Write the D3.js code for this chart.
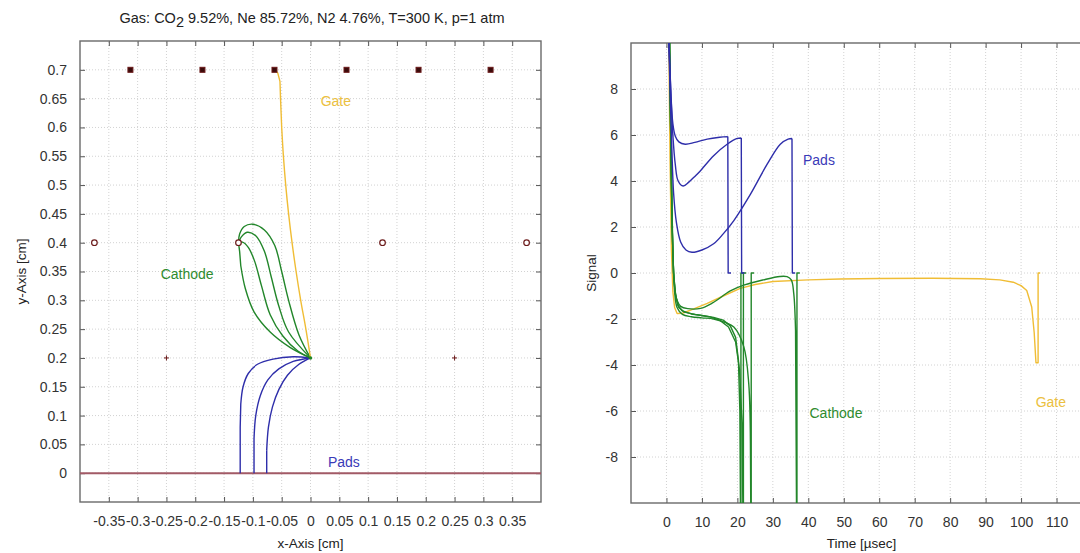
<!DOCTYPE html>
<html>
<head>
<meta charset="utf-8">
<script src="https://cdn.jsdelivr.net/npm/d3@7"></script>
<style>
  body { margin: 0; background: #fff; }
  text { font-family: "Liberation Sans", Arial, sans-serif; }
</style>
</head>
<body>
<svg id="chart" width="1080" height="553"></svg>
<script>
// ---- data: drift lines (left) ----
const leftXTicks = [-0.35, -0.3, -0.25, -0.2, -0.15, -0.1, -0.05, 0, 0.05, 0.1, 0.15, 0.2, 0.25, 0.3, 0.35];
const leftYTicks = [0, 0.05, 0.1, 0.15, 0.2, 0.25, 0.3, 0.35, 0.4, 0.45, 0.5, 0.55, 0.6, 0.65, 0.7];

const gateWiresX = [-0.3125, -0.1875, -0.0625, 0.0625, 0.1875, 0.3125]; // y = 0.7
const cathodeWiresX = [-0.375, -0.125, 0.125, 0.375];                   // y = 0.4
const crossMarksX = [-0.25, 0.25];                                      // y = 0.2
const padPlaneY = 0;

const gateDrift = [[0, 0.2], [-0.008, 0.25], [-0.017, 0.3], [-0.025, 0.35], [-0.032, 0.4], [-0.038, 0.45],
  [-0.043, 0.5], [-0.047, 0.55], [-0.05, 0.6], [-0.052, 0.65], [-0.053, 0.68], [-0.057, 0.695], [-0.0625, 0.7]];

const cathodeDrift = [
  [[0, 0.2], [-0.035, 0.218], [-0.07, 0.245], [-0.098, 0.28], [-0.113, 0.32], [-0.121, 0.36], [-0.123, 0.385], [-0.125, 0.4]],
  [[0, 0.2], [-0.022, 0.212], [-0.048, 0.238], [-0.07, 0.275], [-0.085, 0.325], [-0.097, 0.368], [-0.108, 0.392], [-0.118, 0.401], [-0.125, 0.4]],
  [[0, 0.2], [-0.038, 0.245], [-0.055, 0.29], [-0.068, 0.34], [-0.08, 0.385], [-0.095, 0.412], [-0.11, 0.418], [-0.12, 0.41], [-0.125, 0.4]],
  [[0, 0.2], [-0.02, 0.24], [-0.038, 0.3], [-0.05, 0.35], [-0.062, 0.395], [-0.08, 0.422], [-0.1, 0.432], [-0.115, 0.428], [-0.123, 0.415], [-0.125, 0.4]]
];

const padDrift = [
  [[0, 0.2], [-0.03, 0.202], [-0.065, 0.198], [-0.092, 0.189], [-0.108, 0.173], [-0.117, 0.15], [-0.121, 0.12], [-0.122, 0.08], [-0.122, 0]],
  [[0, 0.2], [-0.03, 0.194], [-0.055, 0.181], [-0.074, 0.162], [-0.087, 0.135], [-0.095, 0.1], [-0.098, 0.06], [-0.098, 0]],
  [[0, 0.2], [-0.02, 0.189], [-0.04, 0.17], [-0.055, 0.145], [-0.066, 0.115], [-0.073, 0.08], [-0.076, 0.04], [-0.076, 0]]
];

// ---- data: induced signals (right), [time usec, signal] ----
const rightXTicks = [0, 10, 20, 30, 40, 50, 60, 70, 80, 90, 100, 110];
const rightYTicks = [-8, -6, -4, -2, 0, 2, 4, 6, 8];

const padSignals = [
  [[0.5, 11], [1.2, 8], [1.8, 6.5], [2.5, 5.95], [3.5, 5.7], [5.3, 5.6], [8, 5.68], [11.5, 5.82], [15, 5.9], [17.3, 5.93], [17.4, 0], [18.2, 0]],
  [[0.5, 11], [1.2, 8], [1.8, 6], [2.5, 4.7], [3.3, 4.0], [4.7, 3.78], [6.3, 3.95], [8, 4.2], [9.6, 4.45], [13.3, 5.1], [17.1, 5.6], [20, 5.85], [21.1, 5.87], [21.2, 0], [22, 0]],
  [[0.5, 11], [1, 8], [1.5, 5.5], [2, 3.5], [2.8, 2.2], [4, 1.35], [5.5, 1.0], [7.2, 0.9], [10, 1.0], [13.3, 1.27], [16, 1.7], [19, 2.28],
    [23.7, 3.43], [28.4, 4.73], [32.1, 5.6], [34.3, 5.82], [35.4, 5.85], [35.5, 0], [36.3, 0]]
];

const cathodeSignals = [
  [[0.8, 11], [1.2, 6], [1.6, 2], [2, 0], [2.5, -0.9], [3.2, -1.4], [4.5, -1.65], [7, -1.78], [10, -1.85], [13.3, -1.93], [16, -2.05],
    [18, -2.3], [19.5, -2.8], [20.3, -3.8], [20.7, -6], [20.9, -11], [21.0, -11], [21.0, 0], [21.8, 0]],
  [[0.8, 11], [1.2, 6], [1.6, 2], [2, 0], [2.6, -1.0], [3.5, -1.5], [5, -1.7], [8, -1.8], [12, -1.9], [15, -2.05], [17.5, -2.35],
    [19.5, -3.0], [20.6, -4.2], [21.3, -6.5], [21.6, -11], [21.7, -11], [21.7, 0], [22.5, 0]],
  [[0.8, 11], [1.3, 5], [1.8, 1], [2.3, -0.8], [3, -1.5], [4.5, -1.8], [7, -1.9], [10, -1.95], [13.3, -2.0], [16.5, -2.15], [19, -2.35],
    [21.8, -3.2], [23.2, -4.8], [23.7, -8], [23.8, -11], [23.9, -11], [23.9, 0], [24.7, 0]],
  [[0.8, 11], [1.3, 5], [1.8, 1], [2.3, -0.6], [3, -1.2], [4, -1.45], [6, -1.55], [9.6, -1.54], [13, -1.3], [18, -0.78], [22, -0.52],
    [27.3, -0.3], [32, -0.15], [34, -0.16], [35.2, -0.3], [35.9, -0.9], [36.4, -2.5], [36.7, -11], [36.8, -11], [36.8, 0], [37.6, 0]]
];

const gateSignal = [[0.6, 11], [1, 5], [1.4, 1], [1.8, -0.8], [2.3, -1.5], [3, -1.76], [4.5, -1.75], [7, -1.6], [11.5, -1.32], [16, -1.0],
  [20.8, -0.67], [25, -0.5], [30, -0.37], [40, -0.3], [49, -0.26], [60, -0.24], [75, -0.23], [88.5, -0.25], [94, -0.3], [97.8, -0.4],
  [100, -0.55], [101.6, -0.76], [103, -1.48], [103.7, -2.6], [104.2, -3.9], [104.8, -3.9], [104.8, 0], [105.4, 0]];

// ---- styles ----
const BLUE = '#2e2eaa', GREEN = '#22862a', YELLOW = '#f0bd35', WIRE = '#6b1a1a', PLANE = '#a25a66';
const FONT = 14;

const svg = d3.select('#chart');

function panel(o) {
  const x = d3.scaleLinear().domain(o.xDomain).range(o.xRange);
  const y = d3.scaleLinear().domain(o.yDomain).range(o.yRange);
  const g = svg.append('g');
  const [x0, x1] = o.xRange, [y0, y1] = o.yRange;

  // dotted grid
  g.append('g').selectAll('line').data(o.xTicks).join('line')
    .attr('x1', (d) => x(d)).attr('x2', (d) => x(d)).attr('y1', y0).attr('y2', y1)
    .attr('stroke', '#d2d2d2').attr('stroke-dasharray', '1,2');
  g.append('g').selectAll('line').data(o.yTicks).join('line')
    .attr('y1', (d) => y(d)).attr('y2', (d) => y(d)).attr('x1', x0).attr('x2', x1)
    .attr('stroke', '#d2d2d2').attr('stroke-dasharray', '1,2');

  // axes with inward ticks on all sides
  const fmt = (d) => String(+d.toFixed(2));
  const axes = [
    [d3.axisBottom(x).tickFormat(fmt), `translate(0,${y0})`, 14],
    [d3.axisTop(x).tickFormat(''), `translate(0,${y1})`, 0],
    [d3.axisLeft(y).tickFormat(fmt), `translate(${x0},0)`, 13],
    [d3.axisRight(y).tickFormat(''), `translate(${x1},0)`, 0],
  ];
  axes.forEach(([ax, tr, pad], i) => {
    ax.tickValues(i < 2 ? o.xTicks : o.yTicks).tickSize(-5).tickPadding(pad);
    const a = g.append('g').attr('transform', tr).call(ax);
    a.select('.domain').remove();
    a.selectAll('line').attr('stroke', '#555');
    a.selectAll('text').attr('font-size', FONT).attr('fill', '#333')
      .style('font-family', '"Liberation Sans", Arial, sans-serif');
  });

  // frame
  g.append('rect').attr('x', x0).attr('y', y1).attr('width', x1 - x0).attr('height', y0 - y1)
    .attr('fill', 'none').attr('stroke', '#6a6a6a').attr('stroke-width', 1.4);

  // clip
  svg.append('clipPath').attr('id', o.id).append('rect')
    .attr('x', x0).attr('y', y1).attr('width', x1 - x0).attr('height', y0 - y1);
  const plot = g.append('g').attr('clip-path', `url(#${o.id})`);

  // axis titles
  g.append('text').attr('x', (x0 + x1) / 2).attr('y', 548).attr('text-anchor', 'middle')
    .attr('font-size', 13.5).attr('fill', '#222').text(o.xLabel);
  g.append('text').attr('transform', `translate(${o.yLabelX},${(y0 + y1) / 2}) rotate(-90)`)
    .attr('text-anchor', 'middle').attr('font-size', 13.5).attr('fill', '#222').text(o.yLabel);

  return { x, y, g, plot };
}

// smooth curve up to the first abrupt (vertical) jump, straight segments after it
function drawLines(p, series, color, width) {
  const smooth = d3.line().curve(d3.curveCatmullRom.alpha(0.5)).x((d) => p.x(d[0])).y((d) => p.y(d[1]));
  const straight = d3.line().x((d) => p.x(d[0])).y((d) => p.y(d[1]));
  const pathOf = (pts) => {
    let j = pts.length - 1;
    for (let i = 0; i < pts.length - 1; i++) {
      const dx = Math.abs(p.x(pts[i + 1][0]) - p.x(pts[i][0]));
      const dy = Math.abs(p.y(pts[i + 1][1]) - p.y(pts[i][1]));
      if (dx < 1.5 && dy > 10) { j = i; break; }
    }
    return smooth(pts.slice(0, j + 1)) + (j < pts.length - 1 ? straight(pts.slice(j)) : '');
  };
  p.plot.append('g').selectAll('path').data(series).join('path')
    .attr('d', pathOf).attr('fill', 'none').attr('stroke', color).attr('stroke-width', width)
    .attr('stroke-linejoin', 'round');
}

function label(p, txt, pos, color) {
  p.g.append('text').attr('x', p.x(pos[0])).attr('y', p.y(pos[1])).attr('dy', '0.35em')
    .attr('text-anchor', 'middle').attr('font-size', 14).attr('fill', color).text(txt);
}

// ---- left panel ----
const L = panel({
  id: 'clipL', xDomain: [-0.4, 0.4], yDomain: [-0.05, 0.75], xRange: [80, 541], yRange: [502, 41],
  xTicks: leftXTicks, yTicks: leftYTicks, xLabel: 'x-Axis [cm]', yLabel: 'y-Axis [cm]', yLabelX: 26,
});

L.plot.append('line').attr('x1', 80).attr('x2', 541).attr('y1', L.y(padPlaneY)).attr('y2', L.y(padPlaneY))
  .attr('stroke', PLANE).attr('stroke-width', 2);

drawLines(L, padDrift, BLUE, 1.4);
drawLines(L, cathodeDrift, GREEN, 1.4);
drawLines(L, [gateDrift], YELLOW, 1.4);

L.plot.append('g').selectAll('rect').data(gateWiresX).join('rect')
  .attr('x', (d) => L.x(d) - 2.5).attr('y', L.y(0.7) - 2.5).attr('width', 5).attr('height', 5)
  .attr('fill', '#3a0a0a').attr('stroke', WIRE).attr('stroke-width', 1);
L.plot.append('g').selectAll('circle').data(cathodeWiresX).join('circle')
  .attr('cx', (d) => L.x(d)).attr('cy', L.y(0.4)).attr('r', 2.8)
  .attr('fill', '#fff').attr('stroke', WIRE).attr('stroke-width', 1.2);
L.plot.append('g').selectAll('path').data(crossMarksX).join('path')
  .attr('d', (d) => `M${L.x(d) - 2.5},${L.y(0.2)}h5M${L.x(d)},${L.y(0.2) - 2.5}v5`)
  .attr('stroke', WIRE).attr('stroke-width', 1);
L.plot.append('circle').attr('cx', L.x(0)).attr('cy', L.y(0.2)).attr('r', 1.8).attr('fill', GREEN);

label(L, 'Gate', [0.044, 0.646], '#ebc040');
label(L, 'Cathode', [-0.214, 0.346], '#2e8b2e');
label(L, 'Pads', [0.058, 0.019], '#3a3ab8');

// title
const title = svg.append('text').attr('x', 312).attr('y', 23).attr('text-anchor', 'middle')
  .attr('font-size', 14.5).attr('fill', '#222');
title.append('tspan').text('Gas: CO');
title.append('tspan').attr('dy', 4).text('2');
title.append('tspan').attr('dy', -4).text(' 9.52%, Ne 85.72%, N2 4.76%, T=300 K, p=1 atm');

// ---- right panel ----
const R = panel({
  id: 'clipR', xDomain: [-10, 120], yDomain: [-10, 10], xRange: [631, 1092], yRange: [503, 43],
  xTicks: rightXTicks, yTicks: rightYTicks, xLabel: 'Time [\u00b5sec]', yLabel: 'Signal', yLabelX: 596,
});

drawLines(R, [gateSignal], YELLOW, 1.4);
drawLines(R, cathodeSignals, GREEN, 1.4);
drawLines(R, padSignals, BLUE, 1.4);

label(R, 'Pads', [43, 4.9], '#3a3ab8');
label(R, 'Cathode', [47.8, -6.07], '#2e8b2e');
label(R, 'Gate', [108.4, -5.6], '#ebc040');
</script>
</body>
</html>
